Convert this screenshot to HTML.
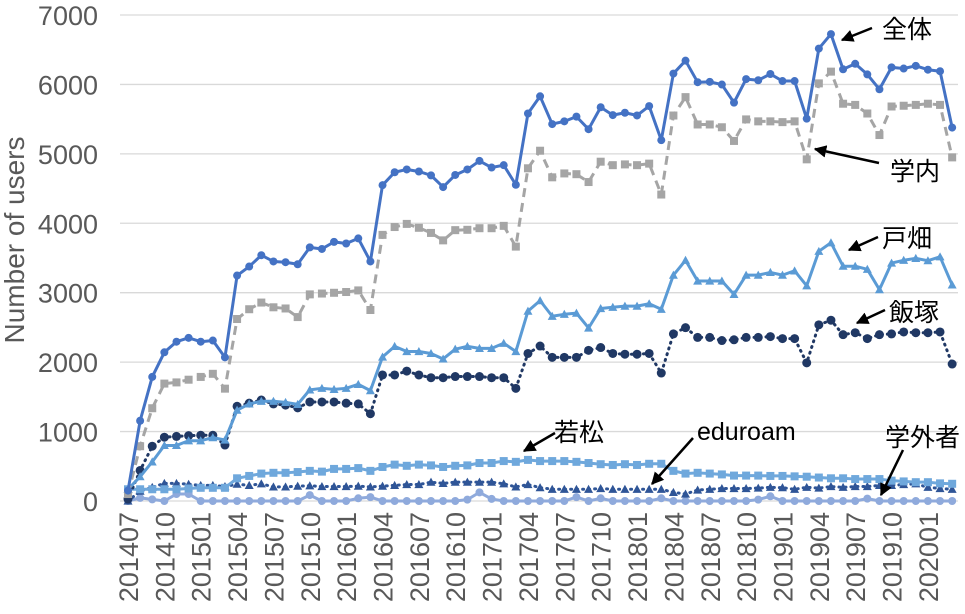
<!DOCTYPE html>
<html><head><meta charset="utf-8"><style>
html,body{margin:0;padding:0;background:#fff;}
svg{display:block;font-family:"Liberation Sans","Noto Sans CJK JP",sans-serif;}
</style></head><body>
<svg id="chart" width="965" height="614" viewBox="0 0 965 614" xmlns="http://www.w3.org/2000/svg">
<g id="grid"></g>
<g id="yticks"></g>
<g id="xticks"></g>
<text transform="translate(24,240) rotate(-90)" text-anchor="middle" font-size="28" fill="#595959">Number of users</text>
<g id="series"></g>
<g id="annot"></g>
</svg>
<script>
const months = [];
for (let y = 2014, m = 7; months.length < 69; ) { months.push(String(y) + String(m).padStart(2, '0')); m++; if (m > 12) { m = 1; y++; } }
const yTicks = [0,1000,2000,3000,4000,5000,6000,7000];
const total = [150,1156,1787,2142,2294,2350,2294,2311,2069,3247,3377,3540,3450,3439,3410,3653,3630,3732,3709,3782,3450,4549,4735,4775,4746,4690,4521,4696,4775,4898,4803,4837,4555,5581,5829,5429,5468,5536,5355,5671,5558,5592,5553,5688,5197,6156,6342,6032,6037,5998,5738,6077,6060,6150,6049,6049,5507,6516,6725,6218,6297,6144,5930,6246,6229,6268,6212,6190,5378];
const campus = [100,789,1336,1691,1708,1747,1787,1832,1618,2621,2762,2858,2790,2773,2649,2976,2988,2999,3010,3033,2751,3833,3946,3991,3935,3861,3754,3901,3906,3929,3929,3963,3664,4792,5045,4662,4718,4707,4594,4887,4837,4848,4837,4859,4414,5552,5817,5423,5423,5383,5186,5496,5468,5468,5457,5468,4921,6015,6184,5722,5705,5581,5271,5682,5693,5705,5722,5705,4949];
const tobata = [169,350,564,800,800,868,868,913,879,1308,1398,1437,1437,1420,1392,1601,1623,1607,1623,1680,1590,2074,2227,2153,2153,2125,2046,2187,2227,2198,2198,2272,2153,2734,2886,2661,2689,2706,2492,2773,2790,2807,2807,2841,2762,3253,3467,3168,3168,3168,2976,3253,3253,3292,3253,3315,3100,3596,3720,3382,3382,3337,3044,3427,3467,3495,3461,3517,3112];
const iizuka = [28,440,789,919,930,941,947,947,806,1364,1409,1454,1398,1381,1342,1426,1426,1426,1409,1398,1257,1815,1815,1871,1815,1776,1776,1793,1793,1793,1776,1776,1623,2125,2232,2069,2069,2069,2170,2210,2125,2114,2114,2125,1843,2407,2497,2356,2356,2311,2322,2356,2356,2368,2339,2339,1990,2537,2604,2396,2424,2339,2396,2407,2435,2424,2424,2435,1973];
const wakamatsu = [169,169,169,169,169,180,190,190,190,327,361,395,406,406,417,434,423,462,462,474,434,490,524,507,524,513,490,507,513,547,547,575,564,592,575,575,575,564,547,530,519,530,519,536,536,434,395,406,395,383,366,366,366,361,361,355,350,338,327,327,316,316,316,293,282,271,271,254,248];
const eduroam = [0,141,197,254,254,242,225,225,208,242,225,248,203,203,214,220,208,208,208,214,203,214,225,237,237,271,254,271,271,271,271,248,203,237,192,169,169,169,169,180,169,169,169,169,169,124,101,158,169,180,180,180,186,197,192,169,197,186,208,197,208,208,225,225,237,248,197,180,169];
const guest = [0,45,23,0,101,101,0,0,0,0,0,0,0,0,0,85,0,0,0,39,56,0,0,0,0,0,0,0,20,124,30,0,0,0,0,0,0,56,0,39,0,0,0,0,39,0,0,0,0,0,0,0,20,68,0,0,0,0,0,0,0,34,0,0,0,0,0,0,0];

const NS = 'http://www.w3.org/2000/svg';
const X0 = 128, STEP = 12.12, Y0 = 501, YPX = 69.43;
function xs(i){ return X0 + i * STEP; }
function ys(v){ return Y0 - v / 1000 * YPX; }
function mk(tag, parent){ const e = document.createElementNS(NS, tag); parent.appendChild(e); return e; }

const grid = document.getElementById('grid'), yt = document.getElementById('yticks'), xt = document.getElementById('xticks');
yTicks.forEach(v => {
  const l = mk('line', grid);
  
  
  l.setAttribute('x1', 120); l.setAttribute('x2', 958); l.setAttribute('y1', ys(v)); l.setAttribute('y2', ys(v));
  l.setAttribute('stroke', '#d9d9d9'); l.setAttribute('stroke-width', '1.3');
  const t = mk('text', yt);
  
  
  t.setAttribute('x', 98); t.setAttribute('y', ys(v) + 10); t.setAttribute('text-anchor', 'end');
  t.setAttribute('font-size', '27'); t.setAttribute('fill', '#595959');
  t.textContent = v;
});
months.forEach((m, i) => {
  if (i % 3 !== 0) return;
  const t = mk('text', xt);
  
  
  t.setAttribute('transform', 'translate(' + (xs(i) + 10) + ',512) rotate(-90)');
  t.setAttribute('text-anchor', 'end'); t.setAttribute('font-size', '27'); t.setAttribute('fill', '#595959');
  t.textContent = m;
});

const sg = document.getElementById('series');
function drawSeries(data, name, color, dash, marker, msize){
  const g = mk('g', sg);
  
  
  const p = mk('polyline', g);
  
  
  p.setAttribute('points', data.map((v, i) => xs(i) + ',' + ys(v)).join(' '));
  p.setAttribute('fill', 'none'); p.setAttribute('stroke', color); p.setAttribute('stroke-width', '3');
  p.setAttribute('stroke-linejoin', 'round');
  if (dash) { p.setAttribute('stroke-dasharray', dash); if (dash === '1 5') p.setAttribute('stroke-linecap', 'round'); }
  data.forEach((v, i) => {
    const x = xs(i), y = ys(v);
    let e;
    if (marker === 'circle') { e = mk('circle', g); e.setAttribute('cx', x); e.setAttribute('cy', y); e.setAttribute('r', msize); }
    else if (marker === 'square') { e = mk('rect', g); e.setAttribute('x', x - msize); e.setAttribute('y', y - msize); e.setAttribute('width', msize * 2); e.setAttribute('height', msize * 2); }
    else { e = mk('polygon', g); e.setAttribute('points', x + ',' + (y - msize) + ' ' + (x - msize) + ',' + (y + msize * 0.8) + ' ' + (x + msize) + ',' + (y + msize * 0.8)); }
    
    
    e.setAttribute('fill', color);
  });
}
drawSeries(guest, 'series-guest', '#8faadc', null, 'circle', 4);
drawSeries(eduroam, 'series-eduroam', '#2f5597', '1 5', 'triangle', 4.5);
drawSeries(wakamatsu, 'series-wakamatsu', '#6fa8dc', null, 'square', 4);
drawSeries(iizuka, 'series-iizuka', '#203864', '1 5', 'circle', 4.5);
drawSeries(tobata, 'series-tobata', '#5b9bd5', null, 'triangle', 4.5);
drawSeries(campus, 'series-campus', '#a5a5a5', '9 6', 'square', 4);
drawSeries(total, 'series-total', '#4472c4', null, 'circle', 4);

const ag = document.getElementById('annot');
const defs = mk('defs', ag);
defs.innerHTML = '<marker id="ah" viewBox="0 0 10 10" refX="9" refY="5" markerWidth="5" markerHeight="5" orient="auto"><path d="M0,0 L10,5 L0,10 z" fill="#000"/></marker>';
function annot(label, name, tx, ty, x1, y1, x2, y2){
  const t = mk('text', ag);
  
  
  t.setAttribute('x', tx); t.setAttribute('y', ty); t.setAttribute('font-size', '25'); t.setAttribute('fill', '#000');
  t.textContent = label;
  const l = mk('line', ag);
  
  
  l.setAttribute('x1', x1); l.setAttribute('y1', y1); l.setAttribute('x2', x2); l.setAttribute('y2', y2);
  l.setAttribute('stroke', '#000'); l.setAttribute('stroke-width', '2.5'); l.setAttribute('marker-end', 'url(#ah)');
}
annot('全体', 'annotation-total', 882, 38, 872, 28, 842, 40);
annot('学内', 'annotation-campus', 890, 180, 879, 163, 815, 149);
annot('戸畑', 'annotation-tobata', 882, 247, 878, 237, 849, 250);
annot('飯塚', 'annotation-iizuka', 889, 321, 885, 310, 857, 323);
annot('若松', 'annotation-wakamatsu', 554, 441, 555, 433, 524, 451);
annot('eduroam', 'annotation-eduroam', 697, 440, 693, 438, 652, 484);
annot('学外者', 'annotation-guest', 885, 446, 903, 450, 881, 495);
</script>
</body></html>
